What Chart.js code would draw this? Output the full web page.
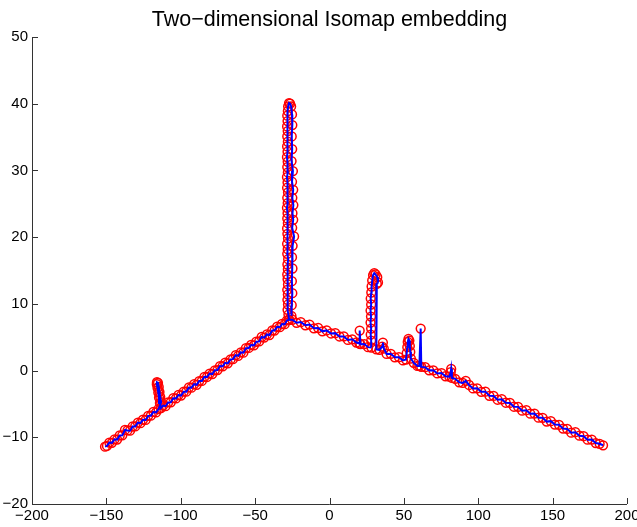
<!DOCTYPE html>
<html>
<head>
<meta charset="utf-8">
<script src="https://cdn.jsdelivr.net/npm/chart.js@4"></script>
<style>
  html, body { margin: 0; padding: 0; background: #fff; }
  #wrap { width: 637px; height: 527px; position: relative; }
</style>
</head>
<body>
<div id="wrap"><canvas id="c" width="637" height="527"></canvas></div>
<script>
const chartTitle = "Two\u2212dimensional Isomap embedding";
const xTickValues = [-200, -150, -100, -50, 0, 50, 100, 150, 200];
const yTickValues = [-20, -10, 0, 10, 20, 30, 40, 50];

// Arm running from the junction to the lower left (incl. side spike)
const arm1X = [-27.2, -28.6, -30.1, -31.9, -33.4, -35.2, -37.0, -38.5, -40.4, -42.1, -43.9, -45.6, -47.3, -49.2, -50.8, -52.7, -54.3, -56.2, -57.9, -59.6, -61.4, -63.0, -64.9, -66.5, -68.4, -70.1, -71.8, -73.6, -75.3, -77.1, -78.8, -80.6, -82.3, -84.1, -85.8, -87.6, -89.3, -91.0, -92.8, -94.5, -96.3, -98.0, -99.8, -101.5, -103.2, -105.0, -106.7, -108.5, -110.2, -111.9, -113.3,
  -114.0, -114.6, -115.1, -115.6, -116.1, -116.0, -115.3, -114.8, -114.3, -113.8, -113.2,
  -114.9, -116.6, -118.4, -120.1, -121.9, -123.6, -125.4, -127.1, -128.8, -130.6, -132.3, -134.1, -135.8, -137.5, -139.3, -141.0, -142.8, -144.5, -146.3, -148.0, -149.6, -150.9];
const arm1Y = [7.60, 7.53, 6.96, 6.98, 6.50, 6.57, 6.00, 6.02, 5.32, 5.41, 4.94, 5.03, 4.37, 4.32, 3.78, 3.84, 3.39, 3.35, 2.69, 2.73, 2.20, 2.31, 1.71, 1.67, 1.08, 1.17, 0.65, 0.68, 0.07, 0.04, -0.52, -0.45, -0.96, -0.93, -1.55, -1.57, -2.13, -2.04, -2.57, -2.53, -3.16, -3.17, -3.74, -3.66, -4.17, -4.14, -4.75, -4.78, -5.34, -5.25, -5.62,
  -4.85, -4.05, -3.30, -2.60, -2.05, -1.75, -1.85, -2.45, -3.20, -3.95, -4.75,
  -5.76, -6.27, -6.20, -6.76, -6.79, -7.40, -7.37, -7.89, -7.80, -8.37, -8.38, -9.01, -8.97, -8.90, -9.71, -9.72, -10.35, -10.31, -10.83, -10.79, -11.29, -11.40];

// Arm running straight up from the junction and back down
const arm2X = [-27.2, -27.6, -28.2, -27.9, -28.3, -28.0, -28.4, -27.9, -28.2, -28.4, -28.0, -28.3, -27.8, -28.4, -28.1, -28.5, -27.9, -28.3, -28.5, -28.0, -28.4, -28.2, -28.6, -28.1, -28.4, -27.9, -28.5, -28.2, -28.6, -28.0, -28.4, -28.1, -28.6, -28.2, -28.5, -28.0, -28.4, -28.1, -28.5, -28.2, -28.4, -28.0, -27.8, -27.2, -26.5, -25.8,
  -25.2, -25.0, -25.4, -25.1, -25.5, -24.6, -25.2, -24.4, -25.0, -24.3, -24.9, -24.4, -25.1, -23.8, -24.8, -25.2, -24.9, -25.3, -25.0, -25.4, -25.6];
const arm2Y = [7.60, 8.4, 9.1, 9.9, 10.6, 11.4, 12.1, 12.9, 13.7, 14.4, 15.2, 15.9, 16.7, 17.5, 18.2, 19.0, 19.8, 20.5, 21.3, 22.1, 22.8, 23.6, 24.4, 25.1, 25.9, 26.7, 27.4, 28.2, 29.0, 29.7, 30.5, 31.3, 32.0, 32.8, 33.6, 34.3, 35.1, 35.9, 36.6, 37.4, 38.2, 38.9, 39.6, 40.1, 40.0, 39.6,
  38.4, 36.8, 35.1, 33.2, 31.4, 29.9, 28.3, 27.1, 25.9, 24.8, 23.6, 22.6, 21.4, 20.1, 18.7, 17.0, 15.3, 13.4, 11.6, 9.8, 8.2];

// Arm running from the junction to the lower right (incl. side spikes)
const arm3X = [-27.2, -25.0, -22.1, -19.3, -16.2, -13.4, -10.5, -7.6, -4.8, -1.9, 1.0, 3.9, 6.7, 9.6, 12.4, 15.3, 18.1,
  20.1, 20.3, 20.8, 23.4, 25.9, 28.2,
  28.0, 27.7, 28.0, 27.6, 27.9, 27.6, 28.0, 27.7, 28.1, 28.3, 28.7, 29.3, 30.1, 31.0, 32.1, 32.6, 31.8, 31.5,
  33.6, 35.4, 35.9, 36.5, 38.4, 41.2, 43.9, 46.7, 49.4,
  51.4, 51.9, 52.3, 52.6, 53.1, 53.7, 54.0, 54.3, 54.7,
  56.6, 59.1, 60.4, 61.3, 61.7, 64.3, 67.0, 69.8, 72.5, 75.3, 78.0, 80.6,
  81.5, 81.8, 82.3, 84.5, 87.2, 89.6, 91.6, 93.8, 96.5, 99.3, 102.0, 104.8, 107.5, 110.3, 113.0, 115.8, 118.5, 121.3, 124.0, 126.8, 129.5, 132.3, 135.0, 137.8, 140.5, 143.3, 146.0, 148.8, 151.5, 154.3, 157.0, 159.8, 162.5, 165.3, 168.0, 170.8, 173.5, 176.3, 179.0, 181.6, 183.9];
const arm3Y = [7.60, 7.62, 7.16, 7.26, 6.79, 6.89, 6.33, 6.38, 5.88, 6.02, 5.56, 5.61, 5.11, 5.12, 4.59, 4.69, 4.21,
  4.06, 6.0, 3.95, 3.97, 3.51, 3.46,
  4.5, 5.4, 6.3, 7.2, 8.1, 9.0, 9.9, 10.8, 11.7, 12.6, 13.5, 14.3, 14.6, 14.4, 14.0, 13.2, 13.0, 3.18,
  3.11, 3.6, 4.2, 3.3, 2.50, 2.51, 1.99, 2.00, 1.52,
  1.65, 2.6, 3.5, 4.3, 4.75, 4.5, 3.7, 2.8, 1.8,
  1.16, 0.70, 0.72, 6.3, 0.55, 0.51, 0.03, 0.04, -0.43, -0.37, -0.85, -0.92,
  -0.25, 0.25, -1.1, -1.24, -1.76, -1.85, -1.55, -2.16, -2.68, -2.66, -3.18, -3.16, -3.78, -3.80, -4.37, -4.30, -4.82, -4.85, -5.42, -5.44, -6.01, -5.94, -6.46, -6.44, -7.06, -7.08, -7.65, -7.58, -8.10, -8.13, -8.70, -8.74, -9.31, -9.24, -9.76, -9.84, -10.36, -10.35, -10.87, -10.98, -11.2];

const arms = [[arm1X, arm1Y], [arm2X, arm2Y], [arm3X, arm3Y]];
const toPts = (xs, ys) => xs.map((x, i) => ({ x: x, y: ys[i] }));

const datasets = [];
arms.forEach(([xs, ys]) => {
  datasets.push({
    data: toPts(xs, ys), showLine: true, borderColor: '#0000ff', borderWidth: 2,
    pointRadius: 0, pointHoverRadius: 0, order: 0, tension: 0
  });
});
arms.forEach(([xs, ys]) => {
  datasets.push({
    data: toPts(xs, ys), showLine: false, pointRadius: 4.4, pointBorderWidth: 1.5,
    pointBorderColor: '#ff0000', pointBackgroundColor: 'rgba(0,0,0,0)', order: 1
  });
});

const fmt = v => String(v).replace('-', '\u2212');

const matlabAxes = {
  id: 'matlabAxes',
  afterDraw(chart) {
    const ctx = chart.ctx, a = chart.chartArea;
    const xs = chart.scales.x, ys = chart.scales.y;
    ctx.save();
    ctx.strokeStyle = '#333';
    ctx.lineWidth = 1;
    ctx.beginPath();
    ctx.moveTo(Math.round(a.left) + 0.5, a.top);
    ctx.lineTo(Math.round(a.left) + 0.5, Math.round(a.bottom) + 0.5);
    ctx.lineTo(a.right, Math.round(a.bottom) + 0.5);
    xTickValues.forEach(v => {
      const p = Math.round(xs.getPixelForValue(v)) + 0.5;
      ctx.moveTo(p, Math.round(a.bottom)); ctx.lineTo(p, Math.round(a.bottom) - 6);
    });
    yTickValues.forEach(v => {
      const p = Math.round(ys.getPixelForValue(v)) + 0.5;
      ctx.moveTo(Math.round(a.left), p); ctx.lineTo(Math.round(a.left) + 6, p);
    });
    ctx.stroke();
    ctx.fillStyle = '#000';
    ctx.font = '21.5px "Liberation Sans", Arial, sans-serif';
    ctx.textAlign = 'center';
    ctx.textBaseline = 'alphabetic';
    ctx.fillText(chartTitle, (a.left + a.right) / 2, 26);
    ctx.restore();
  }
};

new Chart(document.getElementById('c'), {
  type: 'scatter',
  data: { datasets: datasets },
  options: {
    responsive: false,
    animation: false,
    events: [],
    layout: { padding: { top: 37, right: 10, left: 0, bottom: 0 } },
    plugins: { legend: { display: false }, tooltip: { enabled: false }, title: { display: false } },
    scales: {
      x: {
        type: 'linear', min: -200, max: 200,
        afterBuildTicks: s => { s.ticks = xTickValues.map(v => ({ value: v })); },
        afterFit: s => { s.height = 23; s.paddingLeft = 0; s.paddingRight = 0; },
        grid: { display: false, drawTicks: false },
        border: { display: false },
        ticks: { padding: 3, maxRotation: 0, autoSkip: false, color: '#000',
          font: { family: '"Liberation Sans", Arial, sans-serif', size: 15 }, callback: v => fmt(v) }
      },
      y: {
        type: 'linear', min: -20, max: 50,
        afterBuildTicks: s => { s.ticks = yTickValues.map(v => ({ value: v })); },
        afterFit: s => { s.width = 32; s.paddingTop = 0; s.paddingBottom = 0; },
        grid: { display: false, drawTicks: false },
        border: { display: false },
        ticks: { padding: 4, autoSkip: false, color: '#000',
          font: { family: '"Liberation Sans", Arial, sans-serif', size: 15 }, callback: v => fmt(v) }
      }
    }
  },
  plugins: [matlabAxes]
});
</script>
</body>
</html>
